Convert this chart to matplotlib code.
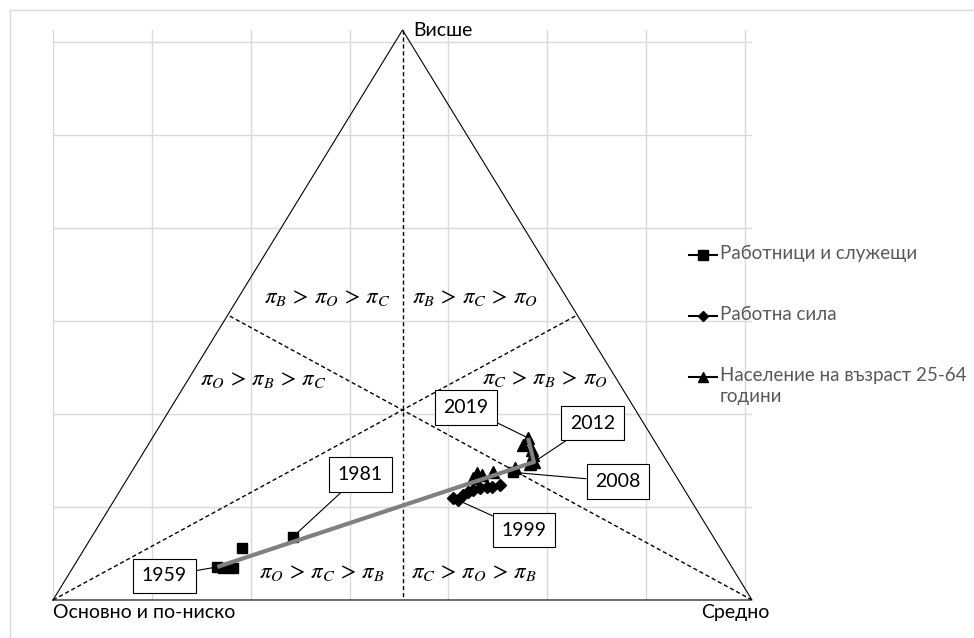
import numpy as np
import matplotlib
matplotlib.use('Agg')
import matplotlib.pyplot as plt
from matplotlib.lines import Line2D
from matplotlib.patches import Rectangle

plt.rcParams['font.family'] = ['Lato', 'Noto Sans', 'DejaVu Sans']
plt.rcParams['mathtext.fontset'] = 'stix'

# shares in % : основно и по-ниско / средно / висше
workers_o = [73.6, 72.9, 71.4, 68.4, 60.1, 23.0]
workers_c = [20.6, 21.5, 23.0, 22.5, 28.8, 54.6]
workers_b = [5.8, 5.6, 5.6, 9.1, 11.1, 22.4]

labour_o = [33.8, 33.3, 32.1, 31.2, 30.3, 29.1, 28.0, 27.3, 26.0]
labour_c = [48.3, 49.2, 49.5, 49.9, 50.4, 51.3, 52.2, 52.9, 53.9]
labour_b = [17.9, 17.5, 18.4, 19.0, 19.3, 19.7, 19.8, 19.8, 20.2]

pop_o = [29.2, 28.2, 27.7, 25.8, 22.3, 19.8, 19.1, 18.6, 18.3, 19.2, 17.8]
pop_c = [49.4, 49.5, 50.4, 51.7, 54.5, 56.3, 56.7, 56.0, 55.4, 53.6, 53.7]
pop_b = [21.4, 22.3, 21.9, 22.5, 23.2, 23.9, 24.2, 25.4, 26.3, 27.2, 28.4]

# grey path 1959 -> 2012 -> 2019
trend_o = [73.6, 19.1, 17.8]
trend_c = [20.6, 56.7, 53.7]
trend_b = [5.8, 24.2, 28.4]

series_names = ['Работници и служещи', 'Работна сила',
                'Население на възраст 25-64\nгодини']

SQ2 = np.sqrt(2)
H = np.sqrt(6) / 2


def to_xy(o, c, b):
    o, c, b = np.array(o), np.array(c), np.array(b)
    s = o + c + b
    c = c / s
    b = b / s
    return (c + b / 2) * SQ2, b * H


fig = plt.figure(figsize=(9.74, 6.38), dpi=100)
ax = fig.add_axes([53 / 974, 38 / 638, 699 / 974, 570 / 638])
ax.set_xlim(0, SQ2)
ax.set_ylim(0, H)
ax.set_xticks(np.arange(0, 1.41, 0.2))
ax.set_yticks(np.arange(0, 1.21, 0.2))
ax.tick_params(length=0, labelbottom=False, labelleft=False)
for s in ax.spines.values():
    s.set_visible(False)
ax.grid(True, color='#d9d9d9', lw=1)
ax.set_axisbelow(True)

# triangle and medians
A = np.array([0, 0])
B = np.array([SQ2, 0])
C = np.array([SQ2 / 2, H])
tri = np.array([A, B, C, A])
ax.plot(tri[:, 0], tri[:, 1], color='black', lw=0.8, clip_on=False, zorder=2)
for p, q, r in [(A, B, C), (B, C, A), (C, A, B)]:
    m = (q + r) / 2
    ax.plot([p[0], m[0]], [p[1], m[1]], color='black', lw=1, ls=(0, (3, 2)), zorder=2)

# region labels
regions = [
    (r'$\pi_B\,>\,\pi_O\,>\,\pi_C$', 0.554, 0.649),
    (r'$\pi_B\,>\,\pi_C\,>\,\pi_O$', 0.854, 0.649),
    (r'$\pi_O\,>\,\pi_B\,>\,\pi_C$', 0.425, 0.473),
    (r'$\pi_C\,>\,\pi_B\,>\,\pi_O$', 0.995, 0.477),
    (r'$\pi_O\,>\,\pi_C\,>\,\pi_B$', 0.544, 0.060),
    (r'$\pi_C\,>\,\pi_O\,>\,\pi_B$', 0.852, 0.060),
]
for txt, x, y in regions:
    ax.text(x, y, txt, ha='center', va='center', fontsize=16.5)

# vertex labels
ax.annotate('Висше', xy=C, xytext=(8, 0), textcoords='offset points',
            ha='left', va='center', fontsize=14, annotation_clip=False)
ax.annotate('Основно и по-ниско', xy=A, xytext=(0, -3), textcoords='offset points',
            ha='left', va='top', fontsize=14, annotation_clip=False)
ax.annotate('Средно', xy=B, xytext=(-12, -3), textcoords='offset points',
            ha='center', va='top', fontsize=14, annotation_clip=False)

wx, wy = to_xy(workers_o, workers_c, workers_b)
lx, ly = to_xy(labour_o, labour_c, labour_b)
px, py = to_xy(pop_o, pop_c, pop_b)
tx, ty = to_xy(trend_o, trend_c, trend_b)

ax.plot(wx, wy, ls='none', marker='s', ms=7, color='black', zorder=4, clip_on=False)
ax.plot(lx, ly, ls='none', marker='D', ms=6, color='black', zorder=4)
ax.plot(px, py, ls='none', marker='^', ms=9, color='black', zorder=4)
ax.plot(tx, ty, color='#808080', lw=3, zorder=5, solid_capstyle='butt')

# callouts
callouts = [
    ('1959', wx[0], wy[0], 0.2256, 0.0516),
    ('1981', wx[4], wy[4], 0.622, 0.2697),
    ('1999', lx[1], ly[1], 0.953, 0.1504),
    ('2008', wx[5], wy[5], 1.143, 0.2546),
    ('2012', px[6], py[6], 1.0914, 0.3803),
    ('2019', px[10], py[10], 0.8355, 0.4136),
]
for txt, x, y, bx, by in callouts:
    ax.annotate(txt, xy=(x, y), xytext=(bx, by), ha='center', va='center', fontsize=14,
                bbox=dict(boxstyle='square,pad=0.45', fc='white', ec='black', lw=0.8),
                arrowprops=dict(arrowstyle='-', color='black', lw=0.8, shrinkA=0, shrinkB=0),
                zorder=3)

# legend drawn in figure pixels
W, Hf = 974, 638
markers = [('s', 6.5), ('D', 5.5), ('^', 7.5)]
leg_y = [255, 316, 377]
for (mk, ms), name, yy in zip(markers, series_names, leg_y):
    fy = 1 - yy / Hf
    fig.add_artist(Line2D([689 / W, 703 / W, 717 / W], [fy, fy, fy], color='black', lw=1.5,
                          marker=mk, ms=ms, markevery=[1]))
    fig.text(720 / W, 1 - (yy - 10) / Hf, name, ha='left', va='top', fontsize=13.5,
             color='#595959', linespacing=1.3)

# chart area border
fig.add_artist(Rectangle((10 / W, -0.5), 2, 0.5 + 1 - 10 / Hf, fill=False,
                         ec='#d9d9d9', lw=1, transform=fig.transFigure))

fig.savefig('out.png', dpi=100)
